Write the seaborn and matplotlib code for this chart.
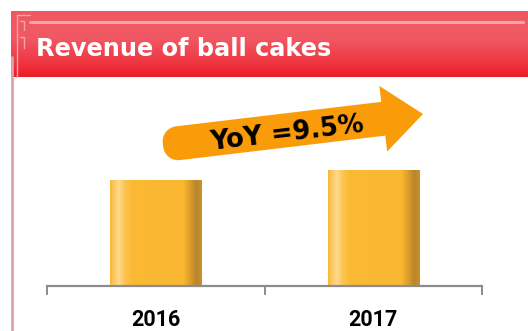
import numpy as np
import pandas as pd
import matplotlib
matplotlib.use("Agg")
import matplotlib.pyplot as plt
from matplotlib.colors import LinearSegmentedColormap
from matplotlib.patches import Polygon
from matplotlib.lines import Line2D
import seaborn as sns

# Revenue index (2016 = 100), growth stated on the arrow
years = ["2016", "2017"]
revenue = [100.0, 109.5]
title = "Revenue of ball cakes"
growth_label = "YoY =9.5%"

W, H = 528, 331
sns.set_theme(style="white")
plt.rcParams["font.family"] = ["DejaVu Sans"]

fig = plt.figure(figsize=(W / 100, H / 100), dpi=100)
fig.patch.set_facecolor("white")


def px(x, y):
    """pixel position (origin top-left) -> figure fraction"""
    return x / W, 1 - y / H


# ---- red header band with vertical gradient ----
hx0, hy0, hy1 = 11, 11, 77
hax = fig.add_axes([hx0 / W, 1 - hy1 / H, 1 - hx0 / W, (hy1 - hy0) / H])
hax.set_axis_off()
head_cmap = LinearSegmentedColormap.from_list(
    "hdr", [(0.0, "#ee5961"), (0.4, "#f15964"), (0.75, "#ef3a45"), (1.0, "#ed1c24")])
hax.imshow(np.linspace(0, 1, 64)[:, None], aspect="auto", cmap=head_cmap,
           extent=[0, 1, 0, 1], origin="upper")
hax.set_xlim(0, 1)
hax.set_ylim(0, 1)

# decorative light lines in the header
deco = "#f5a3a8"
fig.add_artist(Line2D([30 / W, 523 / W], [1 - 21.5 / H, 1 - 21.5 / H],
                      color=deco, lw=2.2, transform=fig.transFigure))
fig.add_artist(Line2D([17 / W, 17 / W], [1 - 15 / H, 1 - 77 / H],
                      color=deco, lw=1.0, transform=fig.transFigure))
fig.add_artist(Line2D([17 / W, 30 / W], [1 - 15 / H, 1 - 15 / H],
                      color=deco, lw=1.0, transform=fig.transFigure))
fig.add_artist(Line2D([20 / W, 24 / W, 24 / W], [1 - 37 / H, 1 - 37 / H, 1 - 48 / H],
                      color=deco, lw=1.0, transform=fig.transFigure))
fig.add_artist(Line2D([20 / W, 24 / W, 24 / W], [1 - 21 / H, 1 - 21 / H, 1 - 30 / H],
                      color=deco, lw=1.0, transform=fig.transFigure))
# left page rule
fig.add_artist(Line2D([12 / W, 12 / W], [1 - 57 / H, 0],
                      color="#dda3aa", lw=2.0, transform=fig.transFigure))

fx, fy = px(36, 56)
fig.text(fx, fy, title, color="white", fontsize=17.3, fontweight="bold",
         ha="left", va="baseline")

# ---- bar chart ----
ax = fig.add_axes([47 / W, 1 - 286 / H, 435 / W, 212 / H])
df = pd.DataFrame({"year": years, "revenue": revenue})
sns.barplot(data=df, x="year", y="revenue", color="#fbb934", width=0.42,
            ax=ax, zorder=2)
ax.set_xlim(-0.5, 1.5)
ax.set_ylim(0, 200)
ax.patch.set_alpha(0)

# horizontal shading across each bar
bar_cmap = LinearSegmentedColormap.from_list(
    "bar", [(0.0, "#f9b634"), (0.03, "#fcc45a"), (0.10, "#ffd98e"),
            (0.16, "#fdc44f"), (0.24, "#fbb934"), (0.80, "#fab731"),
            (0.88, "#d99b2b"), (0.94, "#b8862a"), (1.0, "#c8922e")])
grad = np.linspace(0, 1, 256)[None, :]
for patch in ax.patches:
    x0, y0 = patch.get_x(), patch.get_y()
    w, h = patch.get_width(), patch.get_height()
    im = ax.imshow(grad, aspect="auto", cmap=bar_cmap,
                   extent=[x0, x0 + w, y0, y0 + h], zorder=3)
    im.set_clip_path(patch)
ax.set_xlim(-0.5, 1.5)
ax.set_ylim(0, 200)

for side in ["top", "right", "left"]:
    ax.spines[side].set_visible(False)
ax.spines["bottom"].set_color("#8c8c8c")
ax.spines["bottom"].set_linewidth(1.6)
ax.spines["bottom"].set_zorder(5)
ax.set_yticks([])
ax.set_xlabel("")
ax.set_ylabel("")
ax.set_xticks([0, 1])
ax.set_xticklabels(years, fontsize=15.5, fontweight="bold", color="black",
                   family=["Roboto", "DejaVu Sans"])
ax.tick_params(axis="x", which="major", length=0, pad=16.5)
ax.set_xticks([-0.5, 0.5, 1.5], minor=True)
ax.tick_params(axis="x", which="minor", length=6.5, width=1.4,
               color="#8c8c8c", direction="out", bottom=True)

# ---- growth arrow ----
tail = np.array([163.0, 145.0])
tip = np.array([423.0, 114.0])
d = tip - tail
L = np.hypot(*d)
u = d / L
n = np.array([u[1], -u[0]])  # perpendicular pointing up on screen
sh, hh, hl, r = 17.0, 33.0, 40.0, 15.0
local = []
# rounded tail: bottom-left corner then top-left corner
for a in np.linspace(1.5 * np.pi, np.pi, 10):
    local.append((r + r * np.cos(a), -sh + r + r * np.sin(a)))
for a in np.linspace(np.pi, 0.5 * np.pi, 10):
    local.append((r + r * np.cos(a), sh - r + r * np.sin(a)))
local += [(L - hl, sh), (L - hl, hh), (L, 0.0), (L - hl, -hh), (L - hl, -sh)]
pts = []
for s, v in local:
    p = tail + u * s + n * v
    pts.append(px(p[0], p[1]))
fig.add_artist(Polygon(pts, closed=True, facecolor="#fa9b0a", edgecolor="none",
                       transform=fig.transFigure, zorder=6))
ang = np.degrees(np.arctan2(-d[1], d[0]))
cx, cy = px(287, 134)
fig.text(cx, cy, growth_label, fontsize=18.5, fontweight="bold", color="black",
         rotation=ang, rotation_mode="anchor", ha="center", va="center", zorder=7)

fig.savefig("out.png", dpi=100)
